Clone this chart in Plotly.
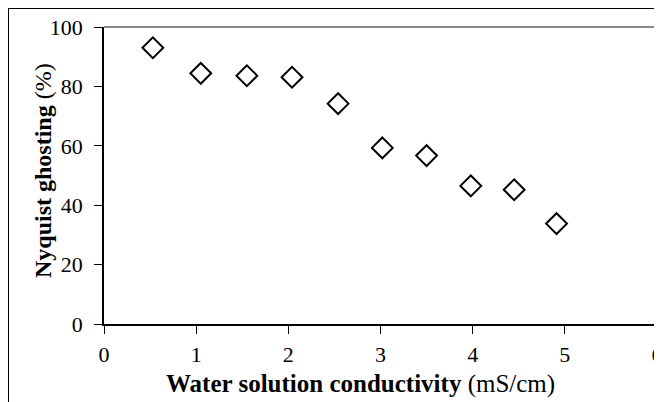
import plotly.graph_objects as go

conductivity = [0.53, 1.05, 1.55, 2.04, 2.54, 3.02, 3.50, 3.98, 4.45, 4.91]
ghosting = [93.0, 84.4, 83.6, 83.1, 74.2, 59.3, 56.7, 46.5, 45.2, 33.8]
x_ticks = [0, 1, 2, 3, 4, 5, 6]
y_ticks = [0, 20, 40, 60, 80, 100]
x_title = "<b>Water solution conductivity</b> (mS/cm)"
y_title = "<b>Nyquist ghosting</b> (%)"

FONT = "Liberation Serif, Times New Roman, serif"

fig = go.Figure(go.Scatter(
    x=conductivity, y=ghosting, mode="markers",
    marker=dict(symbol="diamond-open", size=16, color="black",
                line=dict(width=2, color="black")),
    showlegend=False,
    cliponaxis=False,
))

# page body has an 8px margin: work in screen pixels and shift by OFF
OFF = 8
W, H = 662 - OFF, 402 - OFF
L = 104 - OFF
T = 27 - OFF
R = W - (657 - OFF)
B = H - (324 - OFF)
pw = W - L - R
ph = H - T - B

def px(sx):
    return (sx - OFF - L) / pw

def py(sy):
    return (H - B - (sy - OFF)) / ph

shapes = [
    dict(type="line", xref="paper", yref="paper", x0=0, x1=1, y0=1, y1=1,
         line=dict(color="#888888", width=2)),
    dict(type="line", xref="paper", yref="paper", x0=1, x1=1, y0=0, y1=1,
         line=dict(color="#888888", width=2)),
    dict(type="line", xref="paper", yref="paper", x0=px(8), x1=px(8), y0=py(8), y1=py(402),
         line=dict(color="black", width=2)),
    dict(type="line", xref="paper", yref="paper", x0=px(8), x1=px(662), y0=py(8), y1=py(8),
         line=dict(color="black", width=2)),
]

annotations = [
    dict(text=x_title, xref="paper", yref="paper", x=px(360), y=py(384),
         xanchor="center", yanchor="middle", showarrow=False,
         font=dict(family=FONT, size=25, color="black")),
    dict(text=y_title, xref="paper", yref="paper", x=px(43), y=py(171),
         xanchor="center", yanchor="middle", showarrow=False, textangle=-90,
         font=dict(family=FONT, size=24, color="black")),
]

fig.update_layout(
    width=W, height=H,
    margin=dict(l=L, r=R, t=T, b=B, autoexpand=False),
    paper_bgcolor="white", plot_bgcolor="white",
    font=dict(family=FONT, size=22, color="black"),
    shapes=shapes,
    annotations=annotations,
    xaxis=dict(
        range=[0, 6], tickvals=x_ticks, ticktext=[str(v) for v in x_ticks],
        showgrid=False, zeroline=False, showline=True, linecolor="black", linewidth=1.5,
        ticks="outside", ticklen=8, tickcolor="black", tickwidth=1,
        ticklabelstandoff=2, ticklabeloverflow="allow", automargin=False,
        tickfont=dict(family=FONT, size=22),
    ),
    yaxis=dict(
        range=[0, 100], tickvals=y_ticks, ticktext=[str(v) for v in y_ticks],
        showgrid=False, zeroline=False, showline=True, linecolor="black", linewidth=1.5,
        ticks="outside", ticklen=8, tickcolor="black", tickwidth=1,
        ticklabelstandoff=7, automargin=False,
        tickfont=dict(family=FONT, size=22),
    ),
)

fig.write_html("out.html")
